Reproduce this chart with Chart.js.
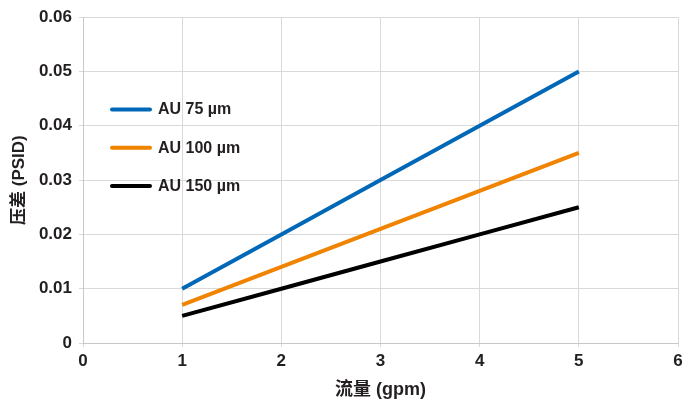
<!DOCTYPE html>
<html>
<head>
<meta charset="utf-8">
<script src="https://cdn.jsdelivr.net/npm/chart.js@4"></script>
<style>
html,body{margin:0;padding:0;background:#fff;}
#wrap{width:683px;height:402px;position:relative;}
</style>
</head>
<body>
<div id="wrap"><canvas id="c" width="683" height="402"></canvas></div>
<script>
const flow = [1, 2, 3, 4, 5];
const au75 = [0.01, 0.02, 0.03, 0.04, 0.05];
const au100 = [0.007, 0.014, 0.021, 0.028, 0.035];
const au150 = [0.005, 0.010, 0.015, 0.020, 0.025];
const seriesLabels = ['AU 75 µm', 'AU 100 µm', 'AU 150 µm'];
const xTitle = '流量 (gpm)';
const yTitle = '压差 (PSID)';

const FONT = '"Liberation Sans", Arial, "Noto Sans CJK SC", sans-serif';
const colors = ['#0068b7', '#f08300', '#000000'];

function pts(ys){ return flow.map((x,i)=>({x:x,y:ys[i]})); }

const legendPlugin = {
  id: 'inLegend',
  afterDraw(chart){
    const ctx = chart.ctx;
    ctx.save();
    chart.data.datasets.forEach((ds,i)=>{
      const y = 109.5 + i*38.3;
      ctx.strokeStyle = ds.borderColor;
      ctx.lineWidth = 4;
      ctx.lineCap = 'round';
      ctx.beginPath();
      ctx.moveTo(112, y);
      ctx.lineTo(150, y);
      ctx.stroke();
      ctx.fillStyle = '#231f20';
      ctx.font = 'bold 16px ' + FONT;
      ctx.textBaseline = 'middle';
      ctx.fillText(ds.label, 158, y + 0.5);
    });
    ctx.restore();
  }
};

new Chart(document.getElementById('c'), {
  type: 'line',
  data: {
    datasets: [
      {label: seriesLabels[0], data: pts(au75), borderColor: colors[0]},
      {label: seriesLabels[1], data: pts(au100), borderColor: colors[1]},
      {label: seriesLabels[2], data: pts(au150), borderColor: colors[2]}
    ].map(d=>Object.assign(d,{borderWidth:4, pointRadius:0, tension:0, fill:false, borderCapStyle:'butt'}))
  },
  options: {
    responsive: false,
    animation: false,
    devicePixelRatio: 1,
    layout: {padding: {top: 15, right: 0, left: 0, bottom: 0}},
    plugins: {legend: {display: false}, tooltip: {enabled: false}},
    scales: {
      x: {
        type: 'linear', min: 0, max: 6,
        ticks: {stepSize: 1, color: '#231f20', font: {family: FONT, size: 17, weight: 'bold'}, padding: 4, maxRotation: 0},
        grid: {color: '#d9d9d9', lineWidth: 1, tickLength: 4},
        border: {color: '#c8c8c8'},
        title: {display: true, text: xTitle, color: '#231f20', font: {family: FONT, size: 18, weight: 'bold'}, padding: {top: 0, bottom: 1}},
        afterFit(s){ s.height = 59; s.paddingRight = 5; s.paddingLeft = 0; }
      },
      y: {
        type: 'linear', min: 0, max: 0.06,
        ticks: {stepSize: 0.01, color: '#231f20', font: {family: FONT, size: 17, weight: 'bold'}, padding: 7,
          callback: v => v === 0 ? '0' : v.toFixed(2)},
        grid: {color: '#d9d9d9', lineWidth: 1, tickLength: 4},
        border: {color: '#c8c8c8'},
        title: {display: true, text: yTitle, color: '#231f20', font: {family: FONT, size: 17, weight: 'bold'}, padding: {top: 9, bottom: 0}},
        afterFit(s){ s.width = 83; }
      }
    }
  },
  plugins: [legendPlugin]
});
</script>
</body>
</html>
